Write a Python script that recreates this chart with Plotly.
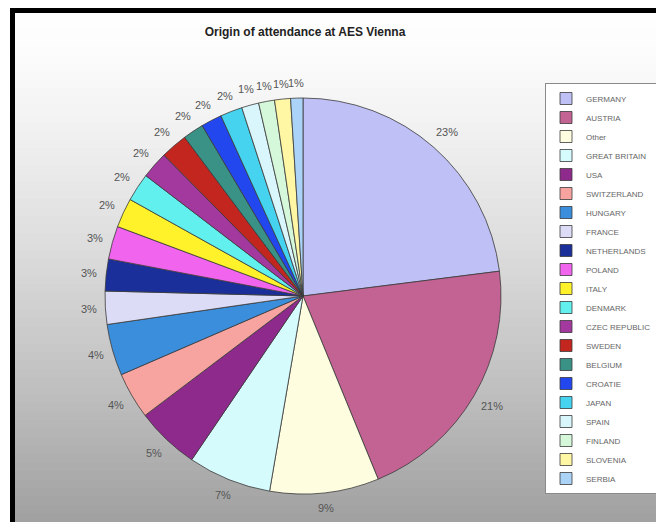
import math
import plotly.graph_objects as go

countries = ["GERMANY", "AUSTRIA", "Other", "GREAT BRITAIN", "USA", "SWITZERLAND",
             "HUNGARY", "FRANCE", "NETHERLANDS", "POLAND", "ITALY", "DENMARK",
             "CZEC REPUBLIC", "SWEDEN", "BELGIUM", "CROATIE", "JAPAN", "SPAIN",
             "FINLAND", "SLOVENIA", "SERBIA"]
shares = [23.0, 20.8, 8.9, 6.8, 5.2, 3.8, 4.2, 2.7, 2.6, 2.7, 2.4, 2.3,
          2.2, 2.2, 1.7, 1.7, 1.8, 1.4, 1.3, 1.3, 1.0]
colors = ["#BFC0F6", "#C36393", "#FFFDE0", "#D6FBFD", "#8E2A8C", "#F7A4A0",
          "#3A8EDB", "#DCDCF6", "#1A2F9A", "#F064EE", "#FFF22A", "#62F0EF",
          "#A3399F", "#C3261F", "#3A9287", "#2347EE", "#45D3F0", "#D9F6FC",
          "#D5F7DA", "#FFF7A3", "#ABD3F7"]

title_text = "Origin of attendance at AES Vienna"

# the page has an 8px body margin, so the figure is 8px smaller each way
OFF = 8
W, H = 664 - OFF, 522 - OFF


def px(x):
    return (x - OFF) / W


def py(y):
    return 1 - (y - OFF) / H


# pie geometry (reference pixel coordinates)
CX, CY, R = 303, 296, 198

fig = go.Figure()

fig.add_trace(go.Pie(
    labels=countries,
    values=shares,
    sort=False,
    direction="clockwise",
    rotation=0,
    marker=dict(colors=colors, line=dict(color="#3a3a3a", width=0.8)),
    textinfo="none",
    domain=dict(x=[px(CX - R), px(CX + R)], y=[py(CY + R), py(CY - R)]),
    showlegend=True,
    automargin=False,
))

# percentage labels placed just outside each slice, derived from the data
total = sum(shares)
annotations = []
cum = 0.0
for v in shares:
    mid = (cum + v / 2) / total * 2 * math.pi
    cum += v
    txt = f"{100 * v / total:.0f}%"
    w = 6.5 * len(txt)
    h = 10
    r = R + 10 + (w / 2) * abs(math.sin(mid)) + (h / 2) * abs(math.cos(mid))
    lx = CX + r * math.sin(mid)
    ly = CY - r * math.cos(mid)
    annotations.append(dict(
        x=px(lx), y=py(ly), xref="paper", yref="paper",
        text=txt, showarrow=False,
        xanchor="center", yanchor="middle",
        font=dict(family="Liberation Sans, Arial", size=11, color="#555555"),
    ))

shapes = []
# vertical gradient background inside the frame
n = 60
top, bottom = 12, 522
for i in range(n):
    y0 = top + (bottom - top) * i / n
    y1 = top + (bottom - top) * (i + 1) / n + 1.5
    t = (i + 0.5) / n
    g = int(round(255 - 95 * t ** 1.3))
    shapes.append(dict(type="rect", xref="paper", yref="paper",
                       x0=px(12), x1=px(662), y0=py(y1), y1=py(y0),
                       fillcolor=f"rgb({g},{g},{g})", line=dict(width=0),
                       layer="below"))
# black frame
shapes.append(dict(type="rect", xref="paper", yref="paper",
                   x0=px(12.5), x1=px(661.5), y0=-0.05, y1=py(10.5),
                   line=dict(color="black", width=5), fillcolor="rgba(0,0,0,0)",
                   layer="above"))

fig.update_layout(
    width=W, height=H,
    margin=dict(l=0, r=0, t=0, b=0),
    paper_bgcolor="#ffffff",
    plot_bgcolor="#ffffff",
    shapes=shapes,
    annotations=annotations,
    title=dict(text="<b>" + title_text + "</b>", x=px(305), xanchor="center",
               y=py(32), yanchor="middle",
               font=dict(family="Liberation Sans, Arial", size=12, color="#222222")),
    legend=dict(x=px(545), y=py(83), xanchor="left", yanchor="top",
                bgcolor="#ffffff", bordercolor="#8a8a8a", borderwidth=1,
                font=dict(family="Liberation Sans, Arial", size=8, color="#666666"),
                traceorder="normal"),
)

fig.write_html("out.html")
